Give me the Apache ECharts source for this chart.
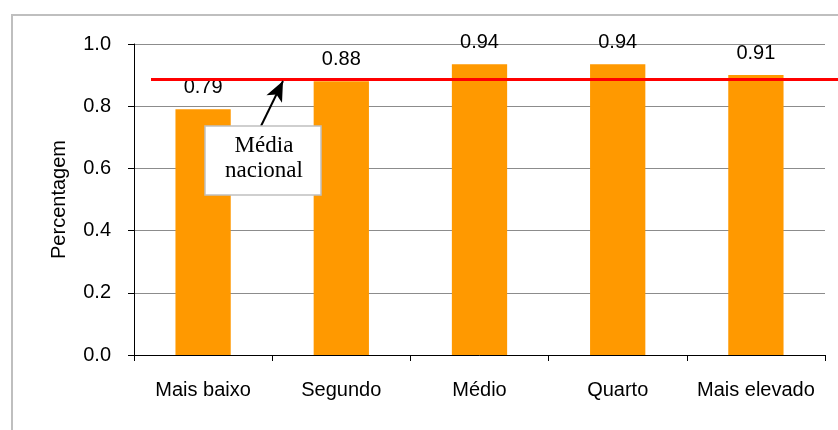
<!DOCTYPE html>
<html>
<head>
<meta charset="utf-8">
<script src="https://cdn.jsdelivr.net/npm/echarts@6/dist/echarts.min.js"></script>
<style>
    html, body {margin: 0; padding: 0; background: #fff;}
    #chart {width: 838px; height: 430px;}
</style>
</head>
<body>
<div id="chart"></div>
<script>
    const categories = ['Mais baixo', 'Segundo', 'Médio', 'Quarto', 'Mais elevado'];
    const values = [0.79, 0.88, 0.935, 0.935, 0.90];
    const valueLabels = ['0.79', '0.88', '0.94', '0.94', '0.91'];
    const yTicks = [0, 0.2, 0.4, 0.6, 0.8, 1.0];
    const nationalAvg = 0.888;
    const avgLabel = 'Média\nnacional';

    const myChart = echarts.init(document.getElementById('chart'));
    myChart.setOption({
        animation: false,
        textStyle: {fontFamily: 'Liberation Sans, Arial, sans-serif'},
        grid: {left: 134, right: 13, top: 44, bottom: 75},
        xAxis: {
            type: 'category',
            data: categories,
            axisLine: {lineStyle: {color: '#000', width: 1}},
            axisTick: {show: true, length: 6, lineStyle: {color: '#000'}},
            axisLabel: {color: '#000', fontSize: 20, margin: 25, interval: 0}
        },
        yAxis: {
            type: 'value',
            min: yTicks[0],
            max: yTicks[yTicks.length - 1],
            interval: 0.2,
            name: 'Percentagem',
            nameLocation: 'middle',
            nameGap: 65,
            nameTextStyle: {color: '#000', fontSize: 20},
            axisLine: {show: true, lineStyle: {color: '#000', width: 1}},
            axisTick: {show: true, length: 6, lineStyle: {color: '#000'}},
            axisLabel: {
                color: '#000', fontSize: 20, margin: 23,
                formatter(v) {
                    return v.toFixed(1);
                }
            },
            splitLine: {lineStyle: {color: '#8c8c8c', width: 1}}
        },
        series: [{
            type: 'bar',
            data: values,
            barWidth: '40%',
            itemStyle: {color: '#ff9900'},
            label: {
                show: true,
                position: 'top',
                distance: 12,
                color: '#000',
                fontSize: 20,
                formatter(p) {
                    return valueLabels[p.dataIndex];
                }
            },
            markLine: {
                silent: true,
                symbol: ['none', 'none'],
                label: {show: false},
                lineStyle: {color: '#ff0000', width: 3, type: 'solid'},
                data: [
                    [{x: 151, yAxis: nationalAvg}, {x: 838, yAxis: nationalAvg}],
                    [{x: 261, y: 126, lineStyle: {color: '#000', width: 2}, symbol: 'none'},
                     {x: 283, y: 81, symbol: 'arrow', symbolSize: [13, 20]}]
                ]
            },
            z: 2
        }],
        graphic: [
            {
                type: 'polyline',
                shape: {points: [[12, 430], [12, 15], [838, 15]]},
                style: {stroke: '#bfbfbf', lineWidth: 2, fill: null},
                silent: true
            },
            {
                type: 'rect',
                shape: {x: 205, y: 126, width: 116, height: 69},
                style: {fill: '#fff', stroke: '#c0c0c0', lineWidth: 1.5},
                z: 100
            },
            {
                type: 'text',
                x: 264,
                y: 158,
                style: {
                    text: avgLabel,
                    fontFamily: 'Liberation Serif, Times New Roman, serif',
                    fontSize: 23,
                    lineHeight: 25,
                    fill: '#000',
                    align: 'center',
                    verticalAlign: 'middle'
                },
                z: 101
            }
        ]
    });
</script>
</body>
</html>
